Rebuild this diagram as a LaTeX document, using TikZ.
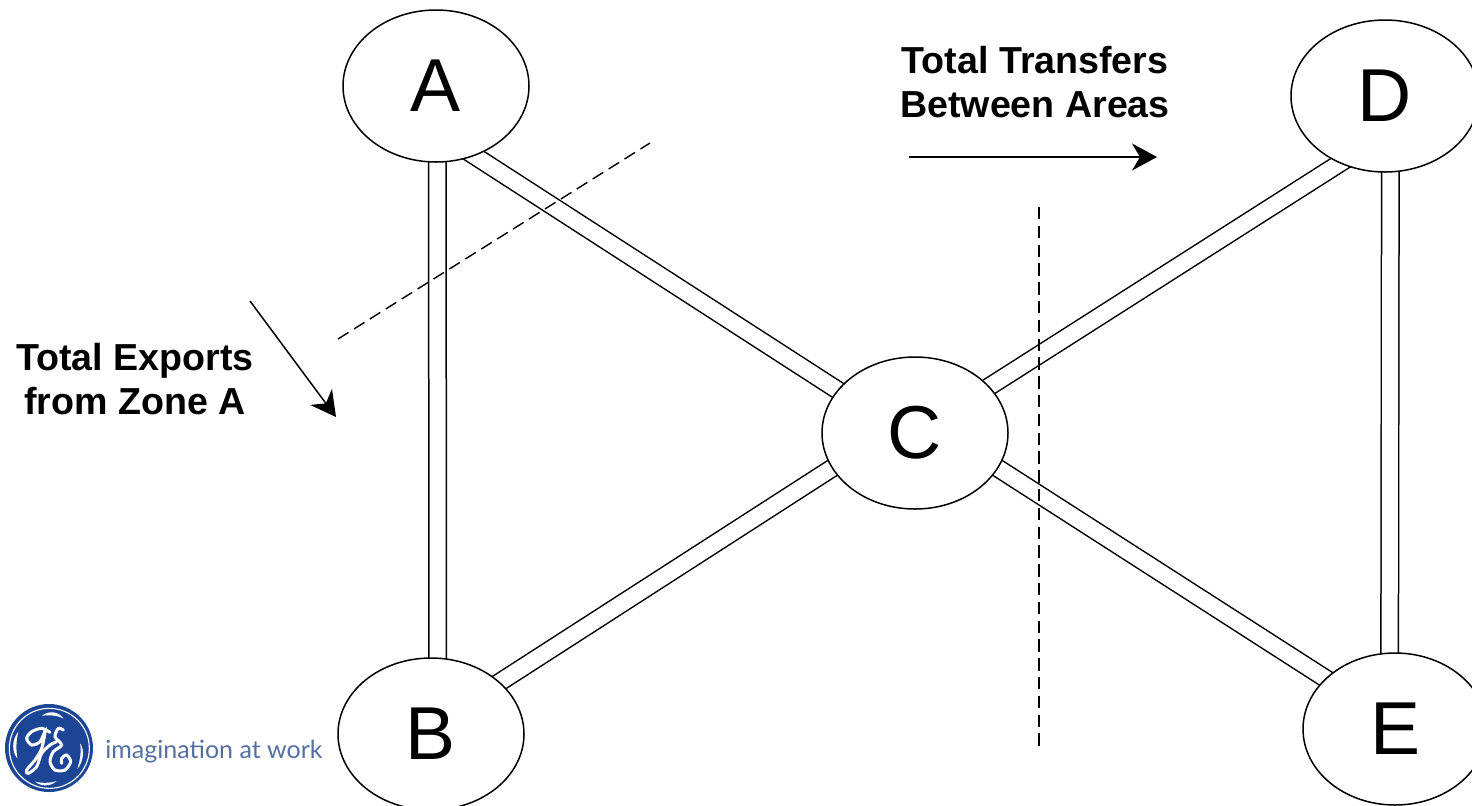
\documentclass[tikz,border=0pt]{standalone}
\usepackage{fontspec}
\setmainfont{Liberation Sans}
\newfontfamily\logofont{Lato}
\usepackage{xcolor}
\usetikzlibrary{shapes.geometric, arrows.meta, backgrounds}
\definecolor{gezone}{HTML}{1D4596}
\definecolor{getext}{HTML}{54709F}
\tikzstyle{arrow} = [line width=0.75pt,-{Stealth[length=12.5pt,width=13.5pt,inset=4pt]}]

\begin{document}
\begin{tikzpicture}[
    x=0.5pt, y=-0.5pt,
    area/.style={ellipse, draw=black, line width=0.75pt, fill=white, inner sep=0pt, minimum width=93pt, minimum height=76pt, font=\fontsize{37.5}{40}\selectfont},
    link/.style={draw=black, line width=0.75pt, double=white, double distance=8pt, shorten <=-5pt, shorten >=-5pt},
    cutline/.style={line width=0.7pt, dash pattern=on 6.2pt off 3.2pt},
    heading/.style={font=\fontsize{18.8}{22}\selectfont\bfseries, align=center, inner sep=0pt}
]
\useasboundingbox (0,0) rectangle (1472,805);

% Draw the areas
\node[area] (A) at (436,86) {A};
\node[area] (B) at (431,734) {B};
\node[area] (C) at (915,433) {C};
\node[area, minimum width=94pt] (D) at (1385,96) {D};
\node[area, minimum width=92pt] (E) at (1395,729) {E};

% Draw the double lines behind the areas
\begin{scope}[on background layer]
\draw[link] (A.-89) -- (B.85.5);
\draw[link] (A.-61.8) -- (C.151);
\draw[link] (B.37) -- (C.203.4);
\draw[link] (C.32) -- (D.-124.3);
\draw[link] (C.-23) -- (E.144);
\draw[link] (D.-86) -- (E.94);
\end{scope}

% Cut lines
\coordinate (cutAstart) at (338,339);
\coordinate (cutAend) at (650,143);
\coordinate (cutCstart) at (1039,207);
\coordinate (cutCend) at (1039,750);
\draw[cutline] (cutAstart) -- (cutAend);
\draw[cutline] (cutCstart) -- (cutCend);

% Labels and their arrows
\node[heading] (transfers) at (1035,82) {Total Transfers\\Between Areas};
\node[heading] (exports) at (135,379) {Total Exports\\from Zone A};
\coordinate (transferstart) at (909,157);
\coordinate (transferend) at (1157,157);
\coordinate (exportstart) at (250,301);
\coordinate (exportend) at (336,417);
\draw[arrow] (transferstart) -- (transferend);
\draw[arrow] (exportstart) -- (exportend);

% Logo, in the units of the crop
\node[circle, fill=gezone, minimum size=44pt, inner sep=0pt] (logo) at (49,748) {};
\begin{scope}[shift={(0,695)}, x=0.1667pt, y=-0.1667pt]
\draw[white, line width=0.55pt] (148,160) circle (120);
\fill[white] (125,62) .. controls (150,45) and (175,50) .. (190,70) .. controls (170,60) and (150,60) .. (125,62);
\fill[white] (240,145) .. controls (255,165) and (250,200) .. (232,222) .. controls (240,195) and (245,170) .. (240,145);
\fill[white] (170,258) .. controls (150,275) and (125,275) .. (105,260) .. controls (125,265) and (150,265) .. (170,258);
\fill[white] (52,190) .. controls (35,170) and (35,135) .. (55,110) .. controls (48,135) and (48,165) .. (52,190);
\draw[white, line width=1.5pt, line cap=round] plot[smooth] coordinates {(150,112) (125,100) (95,110) (80,130) (95,150) (120,140) (135,110) (125,160) (105,195) (80,225) (85,235) (110,215) (125,175) (150,150) (170,140)};
\draw[white, line width=1.5pt, line cap=round] plot[smooth] coordinates {(190,105) (175,100) (165,125) (185,150) (160,170) (150,200) (165,225) (195,225) (212,200) (200,180) (185,190) (185,205)};
\end{scope}
\node[anchor=base west, inner sep=0pt, text=getext, font=\fontsize{12.5}{15}\logofont] (slogan) at (105,758) {imagination at work};
\end{tikzpicture}
\end{document}
